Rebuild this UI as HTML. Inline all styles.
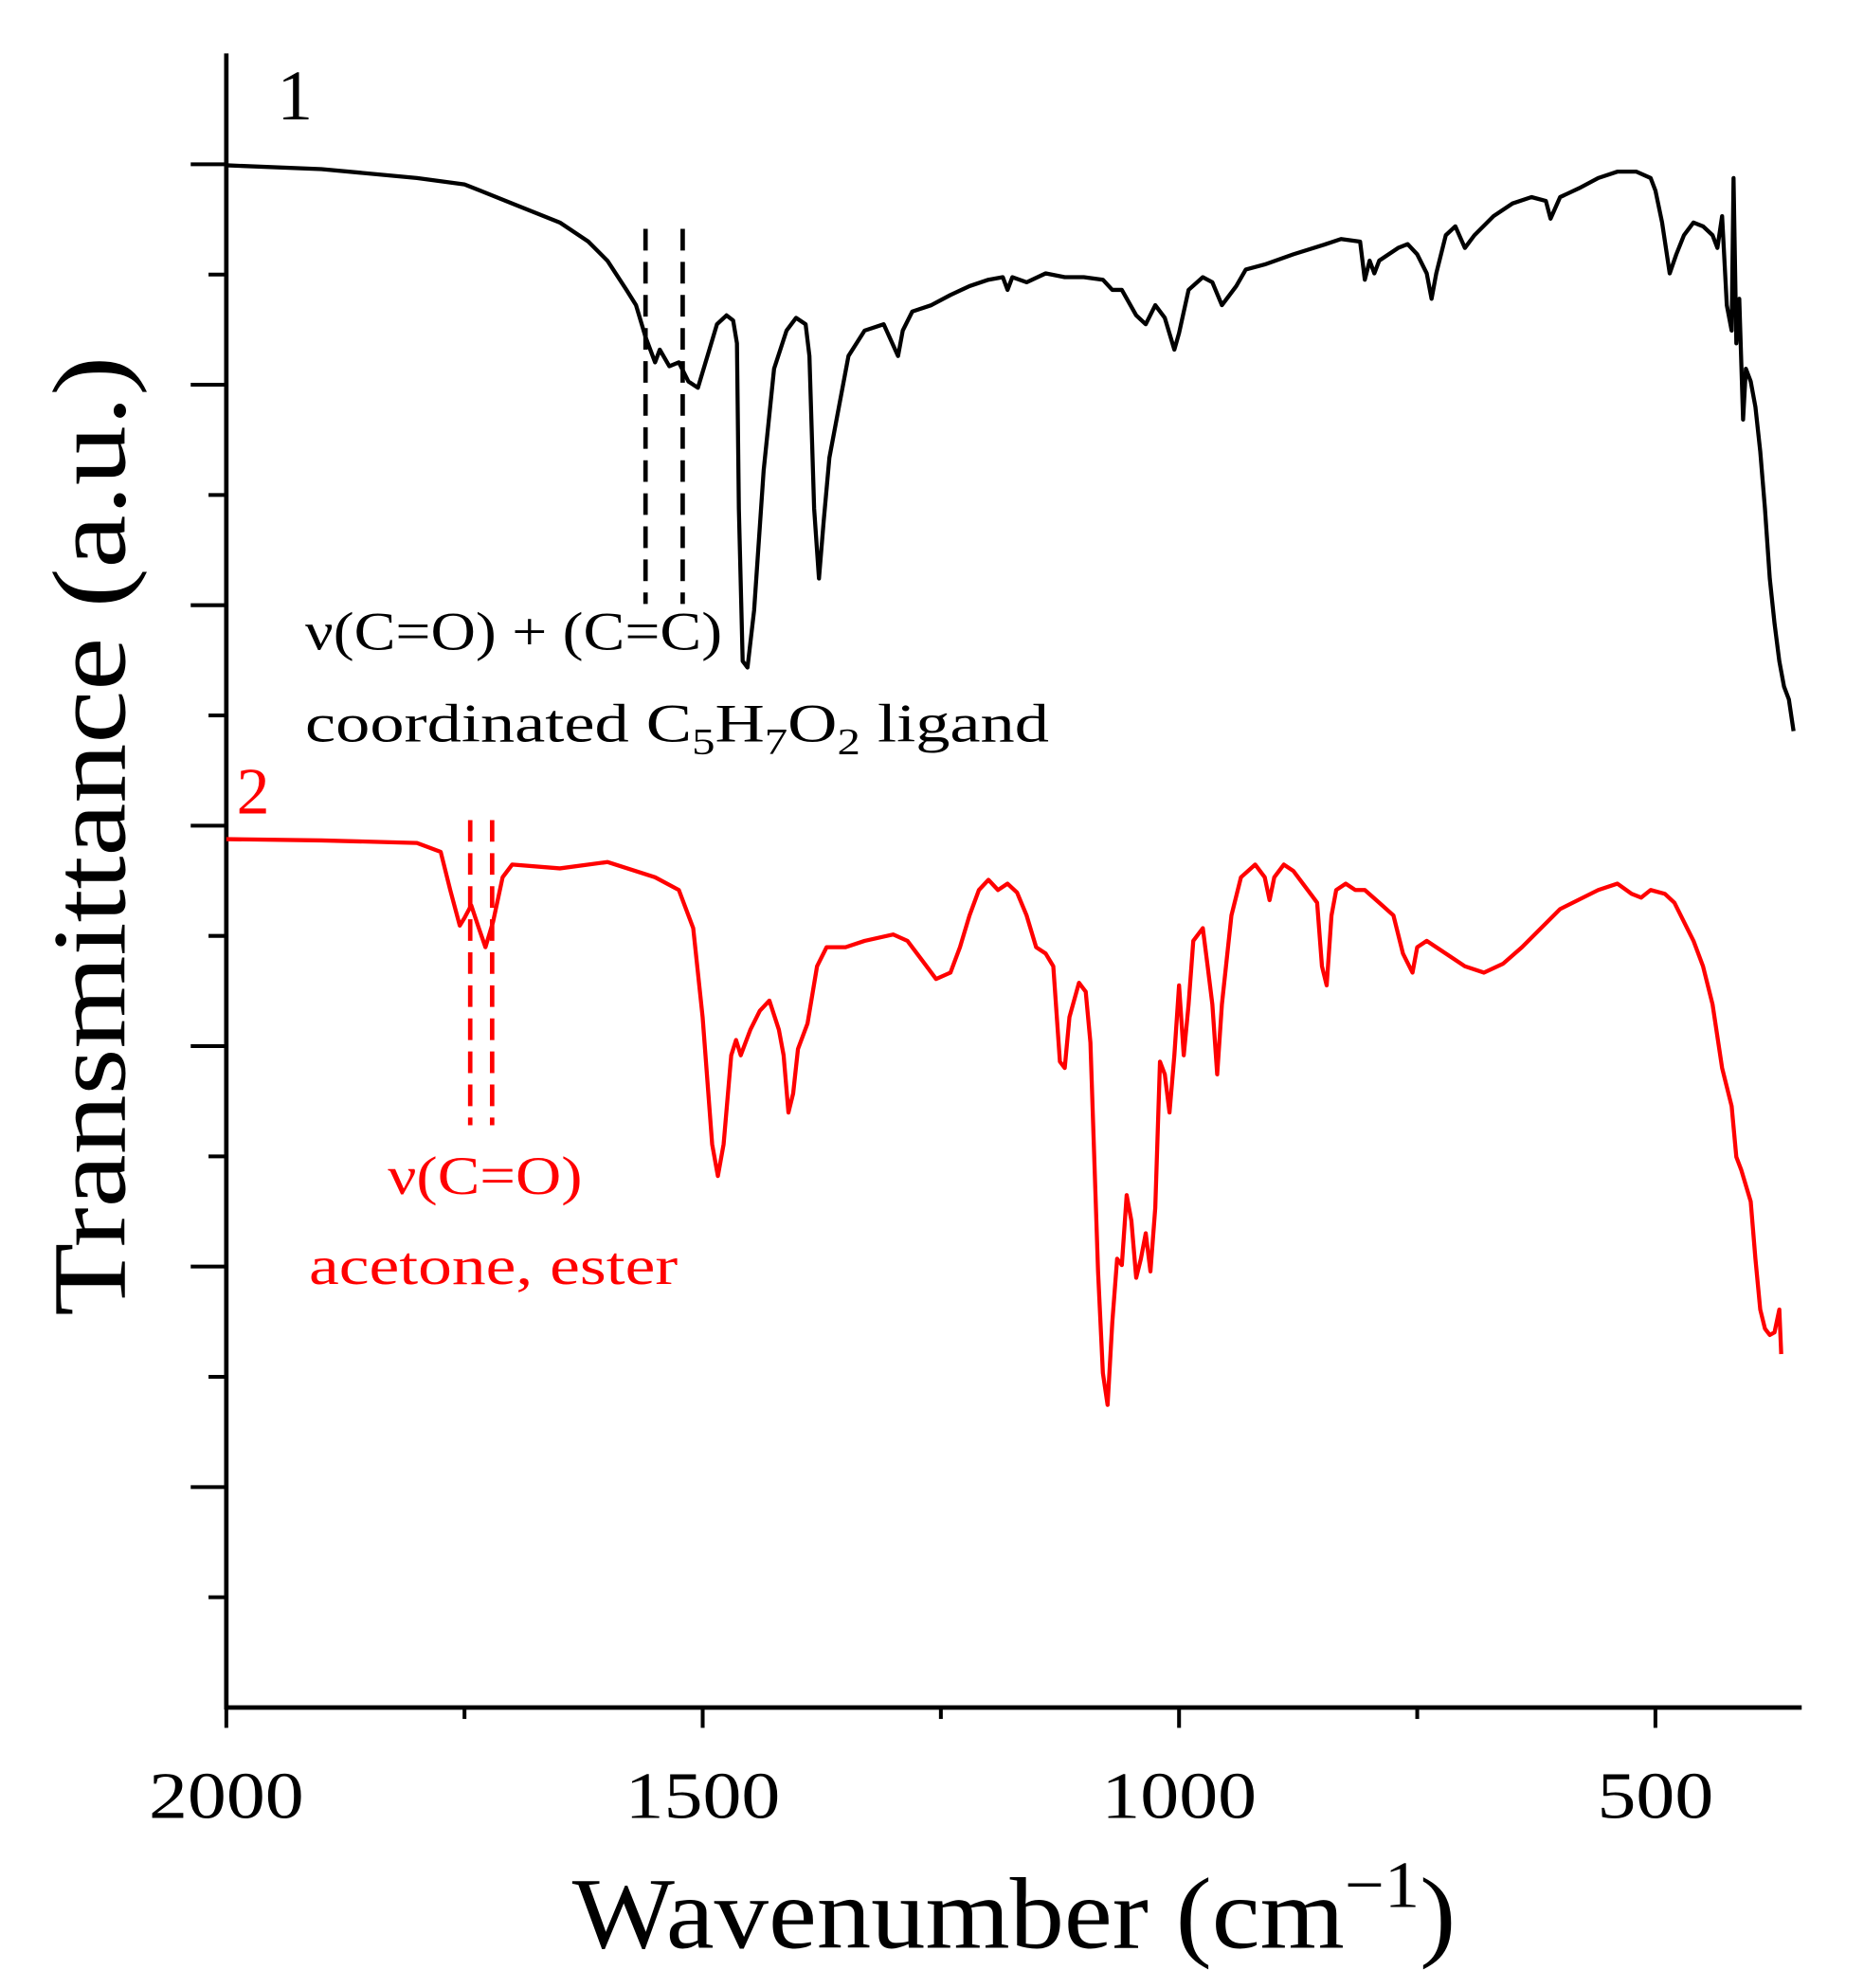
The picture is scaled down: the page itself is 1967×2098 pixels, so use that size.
<!DOCTYPE html>
<html>
<head>
<meta charset="utf-8">
<style>
html,body{margin:0;padding:0;background:#fff;}
svg{display:block;}
text{font-family:"Liberation Serif",serif;}
</style>
</head>
<body>
<svg id="chart" width="1967" height="2098" viewBox="0 0 1466 1563.6" xmlns="http://www.w3.org/2000/svg">
  <rect width="1466" height="1563.6" fill="#fff"/>
  <g id="axes"></g>
  <g id="series"></g>
  <text x="218" y="94" font-size="56" fill="#000">1</text>
  <text x="186" y="640" font-size="52" fill="#ff0000">2</text>
  <text x="240" y="511" font-size="43" fill="#000" textLength="328" lengthAdjust="spacingAndGlyphs">ν(C=O) + (C=C)</text>
  <text x="240" y="583" font-size="43" fill="#000" textLength="585" lengthAdjust="spacingAndGlyphs">coordinated C<tspan font-size="29" dy="10">5</tspan><tspan dy="-10">H</tspan><tspan font-size="29" dy="10">7</tspan><tspan dy="-10">O</tspan><tspan font-size="29" dy="10">2</tspan><tspan dy="-10"> ligand</tspan></text>
  <text x="305" y="939" font-size="43" fill="#ff0000" textLength="153" lengthAdjust="spacingAndGlyphs">ν(C=O)</text>
  <text x="243" y="1010" font-size="43" fill="#ff0000" textLength="290" lengthAdjust="spacingAndGlyphs">acetone, ester</text>
  <text x="450" y="1532" font-size="80" fill="#000" textLength="695" lengthAdjust="spacingAndGlyphs">Wavenumber (cm<tspan font-size="52" dy="-32">−1</tspan><tspan dy="32">)</tspan></text>
  <text transform="translate(98,1035) rotate(-90)" font-size="82" fill="#000" textLength="755" lengthAdjust="spacingAndGlyphs">Transmittance (a.u.)</text>
</svg>
<script>
const xTicks = [2000, 1500, 1000, 500];
const xMinorTicks = [1750, 1250, 750];
const yMajorTicks = [173.4, 346.8, 520.2, 693.6, 867, 1040.4, 1213.8];
const yMinorTicks = [86.7, 260.1, 433.5, 606.9, 780.3, 953.7, 1127.1];
const blackWn = [2000,1900,1800,1750,1700,1650,1620,1600,1580,1570,1560,1550,1545,1535,1525,1515,1505,1495,1485,1475,1468,1464,1462,1458,1453,1446,1436,1425,1412,1402,1392,1388,1383,1378,1373,1367,1357,1347,1330,1310,1295,1290,1280,1260,1240,1220,1200,1185,1180,1175,1160,1140,1120,1100,1080,1070,1060,1045,1035,1025,1015,1005,1000,990,975,965,955,950,940,930,910,880,850,830,810,805,800,795,790,770,760,750,740,735,730,720,710,700,690,670,650,630,615,610,600,580,560,540,520,505,500,493,485,478,470,460,450,440,435,430,425,420,418,415,412,408,405,400,395,390,385,380,375,370,365,360,355];
const blackT = [1213,1210,1203,1198,1183,1168,1153,1138,1115,1103,1078,1058,1068,1055,1058,1043,1038,1063,1088,1095,1091,1073,943,823,818,863,973,1053,1083,1093,1088,1063,943,888,933,983,1023,1063,1083,1088,1063,1083,1098,1103,1111,1118,1123,1125,1115,1125,1121,1128,1125,1125,1123,1115,1115,1095,1088,1103,1093,1068,1081,1115,1125,1121,1103,1108,1118,1131,1135,1143,1150,1155,1153,1123,1138,1128,1138,1148,1151,1143,1128,1108,1128,1158,1165,1148,1158,1173,1183,1188,1185,1171,1188,1195,1203,1208,1208,1203,1193,1168,1128,1143,1158,1168,1165,1158,1148,1173,1103,1083,1203,1073,1108,1013,1053,1043,1023,988,943,888,853,823,803,793,768];
const redWn = [2000,1900,1800,1775,1765,1755,1750,1743,1735,1728,1720,1710,1700,1650,1600,1550,1525,1510,1500,1490,1484,1478,1470,1465,1460,1450,1440,1430,1420,1415,1410,1405,1400,1390,1380,1370,1360,1350,1330,1300,1285,1270,1255,1240,1230,1220,1210,1200,1190,1180,1170,1160,1150,1140,1132,1125,1120,1115,1105,1098,1093,1085,1080,1075,1070,1065,1060,1055,1050,1045,1040,1035,1030,1025,1020,1015,1010,1005,1000,995,990,985,975,970,965,960,955,945,935,920,910,905,900,890,880,870,860,855,850,845,840,835,825,815,805,790,775,765,755,750,740,720,700,680,660,640,600,560,540,525,515,505,490,480,470,460,450,440,430,420,415,410,400,395,390,385,380,375,370,368];
const redT = [683,682,680,673,643,615,621,631,613,598,618,653,663,660,665,653,643,613,543,443,418,443,513,525,513,533,548,556,533,513,468,483,518,538,583,598,598,598,603,608,603,588,573,578,598,623,643,651,643,648,641,623,598,593,583,508,503,543,570,563,523,343,263,238,303,353,348,403,383,338,353,373,343,393,508,498,468,513,568,513,553,603,613,583,553,498,553,623,653,663,653,635,653,663,658,648,638,633,583,568,623,643,648,643,643,633,623,593,578,598,603,593,583,578,585,598,628,643,648,640,637,643,640,633,618,603,583,553,503,473,433,423,398,353,313,298,293,295,313,278];
const blackMarkers = [1560, 1521];
const redMarkers = [1744, 1721];

const NS = "http://www.w3.org/2000/svg";
const X0 = 178, XSCALE = 0.7493, Y0 = 1343;
function xScale(w){ return X0 + (2000 - w) * XSCALE; }
function yScale(v){ return Y0 - v; }
function mk(tag, attrs, parent){
  const e = document.createElementNS(NS, tag);
  for (const k in attrs) e.setAttribute(k, attrs[k]);
  parent.appendChild(e);
  return e;
}
const axes = document.getElementById('axes');
const series = document.getElementById('series');

const yAxis = mk('line', {x1:X0, y1:42, x2:X0, y2:Y0+1.5, stroke:'#000', 'stroke-width':3.5}, axes);


const xAxis = mk('line', {x1:X0-1.5, y1:Y0, x2:1417, y2:Y0, stroke:'#000', 'stroke-width':3.5}, axes);



yMajorTicks.forEach(v => {
  const t = mk('line', {x1:X0-28, y1:yScale(v), x2:X0, y2:yScale(v), stroke:'#000', 'stroke-width':3}, axes);
  
  
});
yMinorTicks.forEach(v => {
  const t = mk('line', {x1:X0-14, y1:yScale(v), x2:X0, y2:yScale(v), stroke:'#000', 'stroke-width':3}, axes);
  
  
});
xTicks.forEach(w => {
  const t = mk('line', {x1:xScale(w), y1:Y0, x2:xScale(w), y2:Y0+16, stroke:'#000', 'stroke-width':3}, axes);
  
  
  const len = String(w).length * 30.5;
  const l = mk('text', {x:xScale(w) - len/2, y:1430, 'font-size':52, fill:'#000', textLength:len, lengthAdjust:'spacingAndGlyphs'}, axes);
  l.textContent = String(w);
  
  
});
xMinorTicks.forEach(w => {
  const t = mk('line', {x1:xScale(w), y1:Y0, x2:xScale(w), y2:Y0+9, stroke:'#000', 'stroke-width':3}, axes);
  
  
});

function path(wn, vals){
  return wn.map((w,i) => (i ? 'L' : 'M') + xScale(w).toFixed(1) + ',' + yScale(vals[i]).toFixed(1)).join(' ');
}
const bl = mk('path', {d:path(blackWn, blackT), fill:'none', stroke:'#000', 'stroke-width':3.2, 'stroke-linejoin':'round'}, series);


const rl = mk('path', {d:path(redWn, redT), fill:'none', stroke:'#ff0000', 'stroke-width':3.2, 'stroke-linejoin':'round'}, series);



blackMarkers.forEach(w => {
  const d = mk('line', {x1:xScale(w), y1:180, x2:xScale(w), y2:475, stroke:'#000', 'stroke-width':3.5, 'stroke-dasharray':'17,9'}, series);
  
  
});
redMarkers.forEach(w => {
  const d = mk('line', {x1:xScale(w), y1:645, x2:xScale(w), y2:885, stroke:'#ff0000', 'stroke-width':3.5, 'stroke-dasharray':'17,9'}, series);
  
  
});
</script>
</body>
</html>
